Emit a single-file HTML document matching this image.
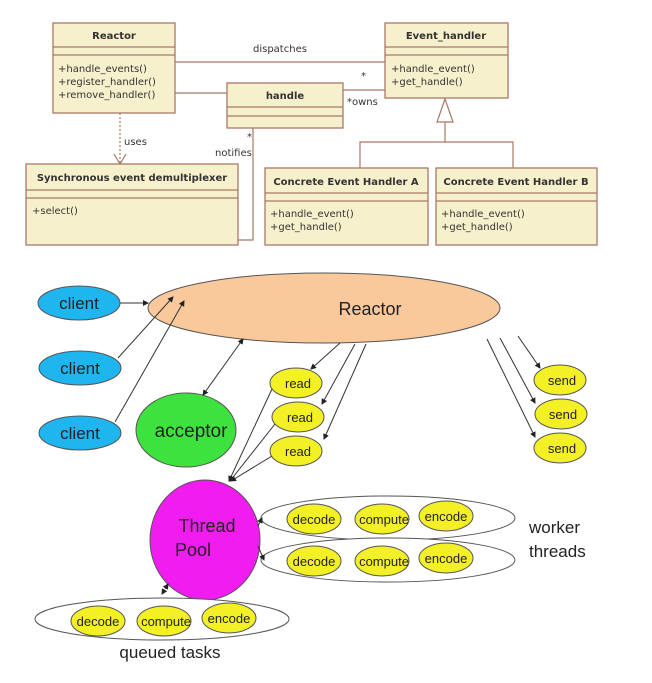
<!DOCTYPE html>
<html><head><style>
html,body{margin:0;padding:0;background:#fff;}
svg{display:block;}
.u{font-family:"DejaVu Sans","Liberation Sans",sans-serif;fill:#333;}
.b{font-weight:bold;font-size:10px;}
.m{font-size:10px;}
.l{font-family:"Liberation Sans",sans-serif;fill:#222;}
</style></head><body>
<svg width="652" height="683" viewBox="0 0 652 683" xmlns="http://www.w3.org/2000/svg">
<defs>
<marker id="a" markerWidth="6" markerHeight="6" refX="5" refY="3" orient="auto"><path d="M0,0 L6,3 L0,6 z" fill="#222"/></marker>
<marker id="s" markerWidth="6" markerHeight="6" refX="1" refY="3" orient="auto"><path d="M6,0 L0,3 L6,6 z" fill="#222"/></marker>
</defs>
<g stroke="#a87868" stroke-width="1.3" fill="#f7f0cc">
<rect x="53" y="23" width="122" height="90"/><line x1="53" y1="47" x2="175" y2="47"/><line x1="53" y1="55" x2="175" y2="55"/>
<rect x="227" y="83" width="116" height="45"/><line x1="227" y1="107" x2="343" y2="107"/><line x1="227" y1="116" x2="343" y2="116"/>
<rect x="385" y="23" width="123" height="75"/><line x1="385" y1="47" x2="508" y2="47"/><line x1="385" y1="55" x2="508" y2="55"/>
<rect x="26" y="164" width="212" height="81"/><line x1="26" y1="190" x2="238" y2="190"/><line x1="26" y1="198" x2="238" y2="198"/>
<rect x="265" y="168" width="163" height="77"/><line x1="265" y1="193" x2="428" y2="193"/><line x1="265" y1="201" x2="428" y2="201"/>
<rect x="436" y="168" width="161" height="77"/><line x1="436" y1="193" x2="597" y2="193"/><line x1="436" y1="201" x2="597" y2="201"/>
</g>
<g stroke="#a87868" stroke-width="1.2" fill="none">
<line x1="175" y1="62" x2="385" y2="62"/>
<line x1="175" y1="93" x2="227" y2="93"/>
<line x1="343" y1="90" x2="385" y2="90"/>
<line x1="120" y1="113" x2="120" y2="164" stroke-dasharray="2,2"/>
<polyline points="114,154 120,164 126,154"/>
<polyline points="253,128 253,240 238,240"/>
<polygon points="445,99 437,122 453,122" fill="#fff"/>
<polyline points="445,122 445,142 360,142 360,168"/>
<polyline points="445,142 513,142 513,168"/>
</g>
<g class="u">
<text class="b" x="114" y="39" text-anchor="middle">Reactor</text>
<text class="m" x="58" y="72">+handle_events()</text>
<text class="m" x="58" y="85">+register_handler()</text>
<text class="m" x="58" y="98">+remove_handler()</text>
<text class="b" x="285" y="99" text-anchor="middle">handle</text>
<text class="b" x="446" y="39" text-anchor="middle">Event_handler</text>
<text class="m" x="391" y="72">+handle_event()</text>
<text class="m" x="391" y="85">+get_handle()</text>
<text class="b" x="132" y="181" text-anchor="middle">Synchronous event demultiplexer</text>
<text class="m" x="32" y="214">+select()</text>
<text class="b" x="346" y="185" text-anchor="middle">Concrete Event Handler A</text>
<text class="m" x="270" y="217">+handle_event()</text>
<text class="m" x="270" y="230">+get_handle()</text>
<text class="b" x="516" y="185" text-anchor="middle">Concrete Event Handler B</text>
<text class="m" x="441" y="217">+handle_event()</text>
<text class="m" x="441" y="230">+get_handle()</text>
<text class="m" x="253" y="52">dispatches</text>
<text class="m" x="124" y="145">uses</text>
<text class="m" x="215" y="156">notifies</text>
<text class="m" x="247" y="140">*</text>
<text class="m" x="361" y="79">*</text>
<text class="m" x="347" y="105">*owns</text>
</g>
<g stroke="#555" stroke-width="1">
<ellipse cx="324" cy="308" rx="176" ry="35" fill="#f9c99c"/>
<ellipse cx="79" cy="303" rx="41" ry="17" fill="#1fb5ef"/>
<ellipse cx="80" cy="368" rx="41" ry="17" fill="#1fb5ef"/>
<ellipse cx="80" cy="433" rx="41" ry="17" fill="#1fb5ef"/>
<ellipse cx="186" cy="430" rx="50" ry="37" fill="#3ee23e"/>
<ellipse cx="296" cy="383" rx="26" ry="15" fill="#f4f026"/>
<ellipse cx="298" cy="417" rx="26" ry="15" fill="#f4f026"/>
<ellipse cx="296" cy="451" rx="26" ry="15" fill="#f4f026"/>
<ellipse cx="560" cy="380" rx="26" ry="15" fill="#f4f026"/>
<ellipse cx="561" cy="414" rx="26" ry="15" fill="#f4f026"/>
<ellipse cx="560" cy="448" rx="26" ry="15" fill="#f4f026"/>
<ellipse cx="205" cy="540" rx="55" ry="60" fill="#f01cf0"/>
<ellipse cx="388" cy="518" rx="127" ry="22" fill="#fff"/>
<ellipse cx="388" cy="560" rx="127" ry="22" fill="#fff"/>
<ellipse cx="162" cy="619" rx="127" ry="21" fill="#fff"/>
<g fill="#f4f026">
<ellipse cx="314" cy="519" rx="27" ry="15"/><ellipse cx="382" cy="519" rx="27" ry="15"/><ellipse cx="446" cy="516" rx="27" ry="15"/>
<ellipse cx="314" cy="561" rx="27" ry="15"/><ellipse cx="382" cy="561" rx="27" ry="15"/><ellipse cx="446" cy="558" rx="27" ry="15"/>
<ellipse cx="98" cy="621" rx="27" ry="15"/><ellipse cx="164" cy="621" rx="27" ry="15"/><ellipse cx="229" cy="618" rx="27" ry="15"/>
</g>
</g>
<g stroke="#333" stroke-width="1" fill="none">
<line x1="120" y1="303" x2="148" y2="303" marker-end="url(#a)"/>
<line x1="118" y1="358" x2="173" y2="297" marker-end="url(#a)"/>
<line x1="115" y1="422" x2="184" y2="301" marker-end="url(#a)"/>
<line x1="203" y1="395" x2="243" y2="339" marker-end="url(#a)" marker-start="url(#s)"/>
<line x1="340" y1="343" x2="311" y2="369" marker-end="url(#a)"/>
<line x1="355" y1="344" x2="322" y2="404" marker-end="url(#a)"/>
<line x1="366" y1="344" x2="324" y2="439" marker-end="url(#a)"/>
<line x1="272" y1="389" x2="229" y2="481" marker-end="url(#a)"/>
<line x1="275" y1="424" x2="230" y2="481" marker-end="url(#a)"/>
<line x1="272" y1="456" x2="231" y2="481" marker-end="url(#a)"/>
<line x1="518" y1="336" x2="540" y2="368" marker-end="url(#a)"/>
<line x1="500" y1="338" x2="535" y2="403" marker-end="url(#a)"/>
<line x1="487" y1="339" x2="535" y2="437" marker-end="url(#a)"/>
<line x1="258" y1="526" x2="262" y2="518" marker-end="url(#a)"/>
<line x1="258" y1="546" x2="264" y2="560" marker-end="url(#a)"/>
<line x1="162" y1="594" x2="168" y2="584" marker-end="url(#a)" marker-start="url(#s)" stroke-dasharray="2,1"/>
</g>
<g class="l" text-anchor="middle">
<text x="370" y="315" font-size="18">Reactor</text>
<text x="79" y="309" font-size="17">client</text>
<text x="80" y="374" font-size="17">client</text>
<text x="80" y="439" font-size="17">client</text>
<text x="191" y="437" font-size="19">acceptor</text>
<g font-size="13">
<text x="298" y="388">read</text><text x="300" y="422">read</text><text x="298" y="456">read</text>
<text x="562" y="385">send</text><text x="563" y="419">send</text><text x="562" y="453">send</text>
</g>
<text x="207" y="532" font-size="18">Thread</text>
<text x="193" y="556" font-size="18">Pool</text>
<g font-size="13">
<text x="314" y="524">decode</text><text x="384" y="524">compute</text><text x="446" y="521">encode</text>
<text x="314" y="566">decode</text><text x="384" y="566">compute</text><text x="446" y="563">encode</text>
<text x="98" y="626">decode</text><text x="166" y="626">compute</text><text x="229" y="623">encode</text>
</g>
<text x="170" y="658" font-size="17">queued tasks</text>
</g>
<g class="l" font-size="17">
<text x="529" y="533">worker</text>
<text x="529" y="557">threads</text>
</g>
</svg>
</body></html>
